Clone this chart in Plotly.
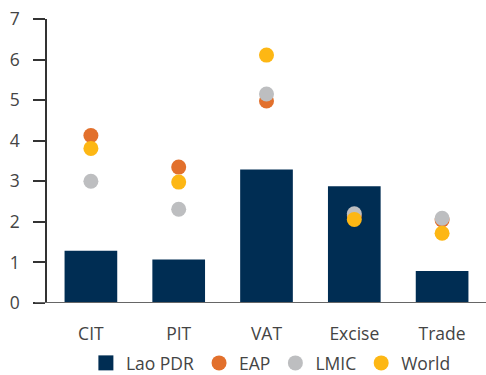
import plotly.graph_objects as go

categories = ["CIT", "PIT", "VAT", "Excise", "Trade"]
lao_pdr = [1.29, 1.07, 3.29, 2.88, 0.79]
eap = [4.13, 3.35, 4.98, 2.15, 2.05]
lmic = [3.0, 2.31, 5.15, 2.2, 2.09]
world = [3.81, 2.98, 6.11, 2.06, 1.72]
y_ticks = [0, 1, 2, 3, 4, 5, 6, 7]

font_family = "'Open Sans', sans-serif"
text_color = "#444444"
fs = 17.5

fig = go.Figure()
fig.add_trace(go.Bar(x=categories, y=lao_pdr, name="Lao PDR", showlegend=False,
                     marker=dict(color="#002D53", line=dict(width=0)), width=0.6))
# legend entry for the bars (square swatch)
fig.add_trace(go.Scatter(x=[None], y=[None], name="Lao PDR", mode="markers",
                         marker=dict(color="#002D53", size=15, symbol="square")))
fig.add_trace(go.Scatter(x=categories, y=eap, name="EAP", mode="markers",
                         marker=dict(color="#E2702C", size=15)))
fig.add_trace(go.Scatter(x=categories, y=lmic, name="LMIC", mode="markers",
                         marker=dict(color="#BDBEC0", size=15)))
fig.add_trace(go.Scatter(x=categories, y=world, name="World", mode="markers",
                         marker=dict(color="#FDB714", size=15)))

fig.update_layout(
    width=486, height=375,
    margin=dict(l=47, r=0, t=19, b=70),
    paper_bgcolor="white", plot_bgcolor="white",
    font=dict(family=font_family, size=fs, color=text_color),
    showlegend=True,
    legend=dict(orientation="h", x=0.51, xanchor="center", yref="container",
                y=0.032, yanchor="middle",
                font=dict(size=fs, color=text_color), itemwidth=30, traceorder="normal"),
    bargap=0.4,
)
fig.update_xaxes(showgrid=False, showline=False, zeroline=False,
                 ticks="outside", ticklen=15, tickcolor="rgba(0,0,0,0)",
                 tickfont=dict(size=fs, color=text_color))
fig.update_yaxes(range=[0, 7], tickvals=y_ticks, showgrid=False, zeroline=False,
                 showline=True, linecolor="#333333", linewidth=1.5,
                 ticks="outside", ticklen=12, tickcolor="#333333", tickwidth=1.5,
                 tickfont=dict(size=fs, color=text_color), ticklabelstandoff=10)
fig.add_shape(type="line", xref="paper", yref="y", x0=-12/439, x1=1, y0=0, y1=0,
              line=dict(color="#666666", width=2), layer="above")

fig.write_html("out.html")
